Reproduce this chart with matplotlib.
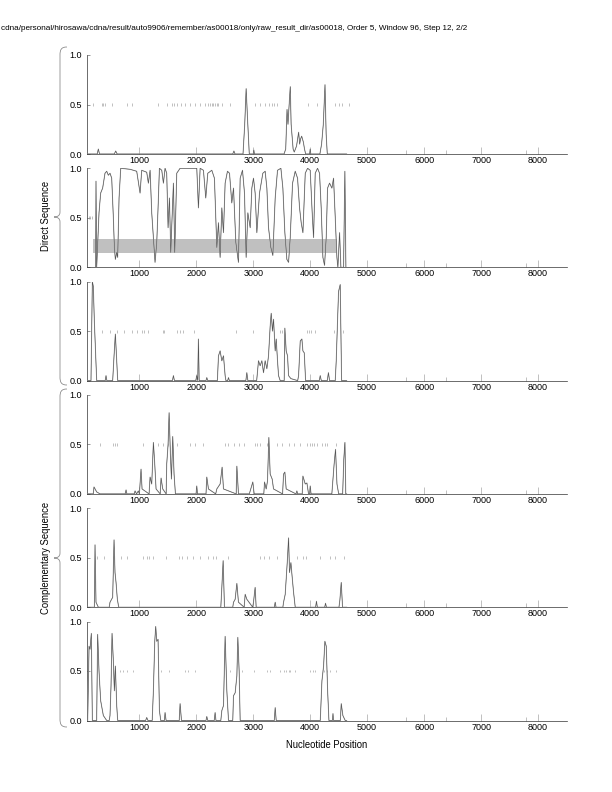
import matplotlib
matplotlib.use("Agg")
import matplotlib.pyplot as plt
from matplotlib.path import Path
from matplotlib.patches import PathPatch

plt.rcParams['font.family'] = ['Liberation Sans', 'DejaVu Sans']

title = ("cdna/personal/hirosawa/cdna/result/auto9906/remember/as00018/only/"
         "raw_result_dir/as00018, Order 5, Window 96, Step 12, 2/2")

# panel 1 (direct, frame 1)
p1_x = [100, 260, 279, 300, 560, 584, 610, 2640, 2660, 2680, 2820, 2850, 2875, 2900, 2930,
        3000, 3010, 3020, 3540, 3570, 3593, 3610, 3625, 3650, 3665, 3700, 3720, 3760, 3797,
        3815, 3830, 3850, 3880, 3900, 3920, 3990, 4000, 4010, 4170, 4200, 4230, 4260, 4280,
        4300, 4640]
p1_y = [0, 0, 0.05, 0, 0, 0.03, 0, 0, 0.03, 0, 0, 0.3, 0.66, 0.35, 0,
        0, 0.04, 0, 0, 0.05, 0.45, 0.3, 0.45, 0.68, 0.3, 0.05, 0.02, 0.08, 0.22,
        0.1, 0.15, 0.18, 0.12, 0.05, 0, 0, 0.05, 0, 0, 0.1, 0.3, 0.7, 0.2,
        0, 0]
p1_marks = [191, 338, 367, 396, 514, 777, 865, 1334, 1480, 1568, 1609, 1656, 1727, 1803,
            1891, 1979, 2067, 2155, 2213, 2243, 2272, 2301, 2330, 2360, 2389, 2448, 2594,
            3033, 3121, 3209, 3285, 3326, 3356, 3414, 3960, 4117, 4440, 4498, 4557, 4674]

# panel 2 (direct, frame 2)
p2_x = [232, 238, 250, 291, 320, 355, 396, 426, 455, 484, 514, 543, 561, 578, 602, 619, 643,
        672, 836, 953, 1012, 1041, 1129, 1158, 1188, 1217, 1246, 1275, 1305, 1328, 1352,
        1393, 1422, 1451, 1480, 1504, 1528, 1551, 1574, 1598, 1621, 1656, 1715, 2008, 2037,
        2067, 2125, 2166, 2201, 2272, 2318, 2360, 2389, 2418, 2448, 2477, 2506, 2547, 2583,
        2623, 2653, 2694, 2740, 2770, 2811, 2846, 2875, 2905, 2946, 2975, 3004, 3033, 3063,
        3110, 3168, 3209, 3239, 3268, 3309, 3344, 3385, 3426, 3485, 3520, 3555, 3590, 3620,
        3649, 3690, 3737, 3778, 3813, 3842, 3872, 3913, 3954, 4000, 4035, 4059, 4088, 4129,
        4164, 4193, 4223, 4252, 4281, 4305, 4340, 4381, 4410, 4440, 4469, 4486, 4516, 4539,
        4586, 4609, 4627]
p2_y = [0, 0.87, 0, 0.55, 0.75, 0.8, 0.95, 0.97, 0.93, 0.95, 0.9, 0.5, 0.2, 0.08, 0.15, 0.1, 0.7,
        1.0, 0.99, 0.97, 0.75, 0.98, 0.96, 0.85, 0.98, 0.55, 0.3, 0.05, 0.25, 0.6, 1.0,
        0.98, 0.85, 1.0, 0.95, 0.4, 0.7, 0.15, 0.5, 0.85, 0.15, 0.95, 1.0, 1.0, 0.6,
        1.0, 0.98, 0.7, 0.95, 0.98, 0.9, 0.2, 0.45, 0.1, 0.6, 0.35, 0.85, 0.97, 0.95,
        0.65, 0.8, 0.25, 0.05, 0.9, 0.98, 0.75, 0.1, 0.55, 0.4, 0.8, 0.9, 0.75, 0.35,
        0.75, 0.95, 0.97, 0.8, 0.4, 0.2, 0.12, 0.7, 0.98, 1.0, 0.8, 0.35, 0.08, 0.05,
        0.3, 0.85, 0.97, 0.9, 0.6, 0.45, 0.35, 0.95, 1.0, 0.98, 0.55, 0.3, 0.95, 1.0,
        0.95, 0.6, 0.1, 0.02, 0.3, 0.8, 0.85, 0.8, 0.9, 0.5, 0.1, 0, 0.35, 0,
        0, 0.97, 0]
p2_marks = [110, 140, 170]
band_x = [190, 4475]
band_y = [0.143, 0.286]

# panel 3 (direct, frame 3)
p3_x = [100, 150, 174, 191, 209, 250, 400, 414, 428, 531, 555, 578, 602, 619, 1580, 1598, 1615,
        1990, 2008, 2025, 2037, 2050, 2170, 2184, 2200, 2370, 2389, 2418, 2448, 2477, 2506, 2520,
        2550, 2565, 2580, 2870, 2887, 2905, 3060, 3092, 3121, 3151, 3180, 3209, 3239, 3268, 3297,
        3315, 3338, 3356, 3385, 3403, 3426, 3444, 3473, 3543, 3555, 3578, 3602, 3620, 3661, 3780,
        3796, 3825, 3854, 3872, 3896, 3919, 4160, 4176, 4195, 4300, 4320, 4340, 4440, 4457, 4480,
        4498, 4527, 4539, 4551, 4640]
p3_y = [0, 0, 1.0, 0.95, 0.6, 0, 0, 0.05, 0, 0, 0.25, 0.47, 0.2, 0, 0, 0.05, 0,
        0, 0.05, 0, 0.42, 0, 0, 0.03, 0, 0, 0.25, 0.3, 0.2, 0.25, 0.05, 0,
        0, 0.03, 0, 0, 0.08, 0, 0, 0.2, 0.15, 0.2, 0.08, 0.2, 0.12, 0.25, 0.55,
        0.68, 0.5, 0.62, 0.3, 0.42, 0.2, 0.05, 0, 0, 0.53, 0.3, 0.25, 0.05, 0.02, 0,
        0.05, 0.4, 0.42, 0.3, 0.28, 0, 0, 0.05, 0, 0, 0.08, 0, 0, 0.2, 0.6,
        0.9, 0.97, 0.5, 0, 0]
p3_marks = [338, 484, 613, 736, 877, 953, 1041, 1088, 1158, 1422, 1440, 1656, 1715, 1762,
            1961, 2694, 2987, 3461, 3502, 3942, 3983, 4018, 4088, 4410, 4574]

# panel 4 (complementary, frame 1)
p4_x = [100, 190, 203, 250, 309, 750, 766, 780, 910, 924, 950, 982, 1000, 1029, 1047, 1170, 1188,
        1217, 1246, 1270, 1293, 1365, 1381, 1410, 1470, 1480, 1504, 1522, 1545, 1563, 1586, 1609,
        1633, 1995, 2008, 2020, 2170, 2184, 2213, 2340, 2360, 2418, 2453, 2477, 2700, 2712, 2740,
        2930, 2946, 2992, 3016, 3185, 3198, 3227, 3250, 3274, 3297, 3332, 3356, 3515, 3532, 3555,
        3578, 3750, 3766, 3780, 3860, 3872, 3913, 3942, 3971, 3990, 4000, 4015, 4380, 4420, 4445,
        4470, 4500, 4570, 4590, 4610, 4625, 4640]
p4_y = [0, 0, 0.07, 0.02, 0, 0, 0.04, 0, 0, 0.03, 0, 0.03, 0, 0.25, 0.05, 0, 0.17,
        0.1, 0.52, 0.3, 0.05, 0, 0.16, 0.05, 0, 0.3, 0.5, 0.82, 0.4, 0.15, 0.58, 0.2,
        0, 0, 0.08, 0, 0, 0.17, 0.05, 0, 0.05, 0.1, 0.27, 0.05, 0, 0.28, 0,
        0, 0.03, 0.12, 0, 0, 0.12, 0.05, 0.13, 0.57, 0.2, 0.15, 0.05, 0, 0.2, 0.22,
        0.05, 0, 0.03, 0, 0, 0.18, 0.1, 0.11, 0, 0, 0.08, 0, 0, 0.3, 0.45,
        0.1, 0, 0, 0.35, 0.52, 0, 0]
p4_marks = [309, 543, 572, 613, 1070, 1246, 1334, 1422, 1510, 1656, 1891, 1979, 2113, 2506,
            2565, 2653, 2758, 2840, 3033, 3063, 3110, 3239, 3414, 3502, 3620, 3708, 3813,
            3942, 3989, 4030, 4071, 4118, 4206, 4264, 4300, 4450, 4600]

# panel 5 (complementary, frame 2)
p5_x = [100, 210, 221, 238, 279, 470, 484, 531, 555, 572, 590, 613, 637, 2430, 2448, 2471, 2494,
        2640, 2653, 2682, 2712, 2740, 2840, 2858, 2887, 2990, 3004, 3033, 3051, 3370, 3385, 3400,
        3520, 3532, 3561, 3602, 3620, 3637, 3661, 3684, 3708, 3737, 4095, 4110, 4125, 4255, 4269,
        4285, 4505, 4521, 4545, 4568, 4640]
p5_y = [0, 0, 0.63, 0.05, 0, 0, 0.05, 0.1, 0.68, 0.35, 0.25, 0.08, 0, 0, 0.2, 0.47, 0,
        0, 0.05, 0.08, 0.24, 0.05, 0, 0.13, 0.08, 0, 0.05, 0.2, 0, 0, 0.05, 0,
        0, 0.05, 0.13, 0.5, 0.7, 0.35, 0.45, 0.3, 0.15, 0, 0, 0.06, 0, 0, 0.04,
        0, 0, 0.07, 0.25, 0, 0]
p5_marks = [250, 379, 531, 672, 777, 1070, 1129, 1170, 1246, 1469, 1703, 1744, 1832, 1949,
            2067, 2213, 2289, 2348, 2565, 3110, 3192, 3285, 3414, 3766, 3872, 3930, 4176,
            4340, 4440, 4586]

# panel 6 (complementary, frame 3)
p6_x = [92, 116, 133, 156, 174, 250, 267, 291, 320, 367, 426, 470, 484, 502, 520, 543, 561, 578,
        602, 619, 1110, 1129, 1150, 1225, 1246, 1270, 1287, 1305, 1328, 1352, 1375, 1440, 1451,
        1469, 1700, 1715, 1739, 2170, 2184, 2200, 2315, 2330, 2345, 2430, 2448, 2477, 2506, 2536,
        2565, 2640, 2653, 2682, 2712, 2729, 2752, 2770, 3370, 3385, 3403, 4177, 4206, 4235, 4258,
        4282, 4306, 4329, 4390, 4400, 4410, 4530, 4545, 4574, 4615, 4640]
p6_y = [0, 0.75, 0.72, 0.88, 0, 0, 0.87, 0.5, 0.2, 0.05, 0, 0, 0.05, 0.35, 0.88, 0.6, 0.3, 0.55,
        0.15, 0, 0, 0.03, 0, 0, 0.3, 0.8, 0.95, 0.8, 0.82, 0.1, 0, 0, 0.08,
        0, 0, 0.17, 0, 0, 0.04, 0, 0, 0.08, 0, 0, 0.1, 0.15, 0.85, 0.3,
        0, 0, 0.25, 0.28, 0.45, 0.84, 0.5, 0, 0, 0.13, 0, 0, 0.4, 0.55, 0.8,
        0.75, 0.3, 0, 0, 0.07, 0, 0, 0.17, 0.05, 0, 0]
p6_marks = [660, 719, 777, 883, 1381, 1528, 1803, 1850, 1979, 2583, 2799, 3016, 3250, 3297,
            3461, 3532, 3578, 3620, 3649, 3737, 4000, 4047, 4088, 4235, 4293, 4352, 4457]

panels = [(p1_x, p1_y, p1_marks), (p2_x, p2_y, p2_marks), (p3_x, p3_y, p3_marks),
          (p4_x, p4_y, p4_marks), (p5_x, p5_y, p5_marks), (p6_x, p6_y, p6_marks)]

major_ticks = [1000, 2000, 3000, 4000, 5000, 6000, 7000, 8000]
minor_ticks = [5690, 6390, 7790]

W, H = 612, 792
fig = plt.figure(figsize=(W / 72, H / 72), dpi=72)

left = 87 / W
width = (567 - 87) / W
height = 99 / H

for i, (xs, ys, marks) in enumerate(panels):
    y0 = 154 + i * 113.3
    ax = fig.add_axes([left, 1 - y0 / H, width, height])
    if i == 1:
        ax.fill_between(band_x, band_y[0], band_y[1], color='#c0c0c0', lw=0, zorder=1)
    ax.vlines(marks, 0.485, 0.515, color='#999999', lw=0.6, zorder=2)
    ax.plot(xs, ys, color='#aaaaaa', lw=1.0, zorder=3)
    ax.plot(xs, ys, color='#444444', lw=0.45, zorder=4)
    ax.set_xlim(80, 8510)
    ax.set_ylim(0, 1)
    ax.spines['top'].set_visible(False)
    ax.spines['right'].set_visible(False)
    for s in ('left', 'bottom'):
        ax.spines[s].set_linewidth(0.7)
        ax.spines[s].set_color('#333333')
    ax.set_yticks([0, 0.5, 1.0])
    ax.set_yticklabels(['0.0', '0.5', '1.0'])
    ax.set_xticks(major_ticks)
    ax.set_xticks(minor_ticks, minor=True)
    ax.tick_params(axis='y', direction='in', length=3, width=0.6, pad=5,
                   labelsize=9, color='#555555')
    ax.tick_params(axis='x', which='major', direction='in', length=7, width=0.6, pad=2,
                   labelsize=9, color='#999999')
    ax.tick_params(axis='x', which='minor', direction='in', length=4, width=0.6,
                   color='#999999')

fig.text(1 / W, 1 - 28 / H, title, ha='left', va='center', fontsize=8.1)
fig.text(327 / W, 1 - 745 / H, 'Nucleotide Position', ha='center', va='center', fontsize=9.5)
fig.text(46 / W, 1 - 216 / H, 'Direct Sequence', rotation=90, ha='center', va='center',
         fontsize=9.5)
fig.text(46 / W, 1 - 558 / H, 'Complementary Sequence', rotation=90, ha='center',
         va='center', fontsize=9.5)


def brace(top, mid, bottom):
    xl, xt, xe = 60, 54, 67
    pts = [(xe, top), (61, top), (xl, top + 3), (xl, top + 8),
           (xl, mid - 5),
           (xl, mid - 1), (57, mid), (xt, mid),
           (57, mid), (xl, mid + 1), (xl, mid + 5),
           (xl, bottom - 8),
           (xl, bottom - 3), (61, bottom), (xe, bottom)]
    codes = [Path.MOVETO, Path.CURVE4, Path.CURVE4, Path.CURVE4,
             Path.LINETO,
             Path.CURVE4, Path.CURVE4, Path.CURVE4,
             Path.CURVE4, Path.CURVE4, Path.CURVE4,
             Path.LINETO,
             Path.CURVE4, Path.CURVE4, Path.CURVE4]
    verts = [(x / W, 1 - y / H) for x, y in pts]
    fig.patches.append(PathPatch(Path(verts, codes), transform=fig.transFigure,
                                 fill=False, edgecolor='#888888', lw=0.8))


brace(47, 217, 385)
brace(389, 558, 727)

fig.savefig('out.png', dpi=72)
